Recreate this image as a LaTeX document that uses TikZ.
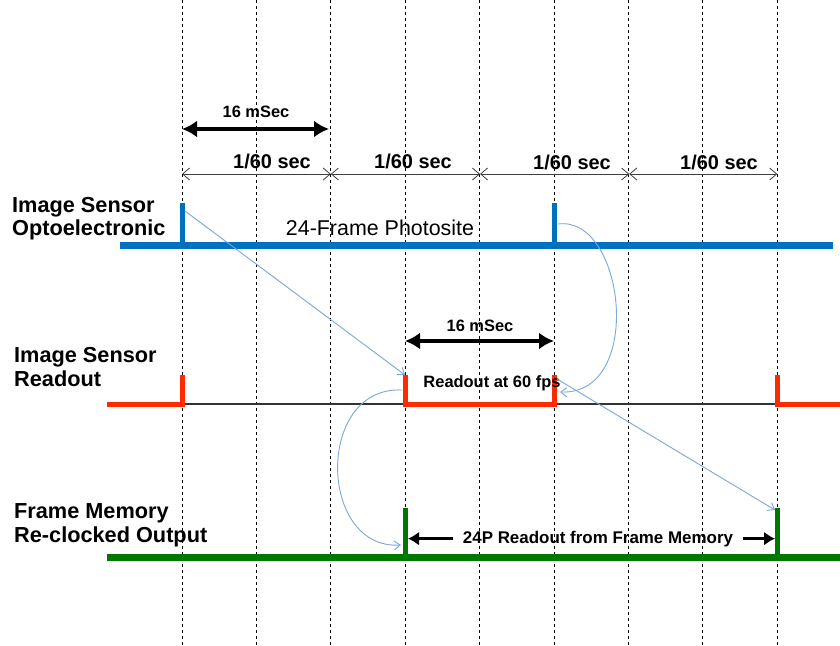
\documentclass[tikz,border=0pt]{standalone}
\usepackage{fontspec}
\setmainfont{Liberation Sans}
\usetikzlibrary{arrows.meta}
\definecolor{sigblue}{HTML}{0070C0}
\definecolor{sigred}{HTML}{FF2A00}
\definecolor{siggreen}{HTML}{007800}
\definecolor{linkblue}{HTML}{7BA7D9}
\definecolor{dimgray}{HTML}{3F3F3F}
\begin{document}
\begin{tikzpicture}[x=1bp,y=-1bp,
  gridline/.style={black, line width=0.7bp, dash pattern=on 3bp off 3bp},
  rowlabel/.style={anchor=base west, inner sep=0, align=left, font=\bfseries\fontsize{21.8}{24}\selectfont},
  bluebase/.style={sigblue, line width=7bp},
  bluepulse/.style={sigblue, line width=5bp},
  redsig/.style={sigred, line width=5bp, line join=miter},
  greenbase/.style={siggreen, line width=7bp},
  greenpulse/.style={siggreen, line width=5bp},
  thinblack/.style={black!80, line width=1.2bp},
  link/.style={linkblue, line width=0.9bp, -{Straight Barb[length=6bp,width=9bp]}},
  period/.style={dimgray, line width=0.8bp, {Straight Barb[length=7bp,width=12bp]}-{Straight Barb[length=7bp,width=12bp]}},
  periodlabel/.style={anchor=base, inner sep=0, font=\bfseries\fontsize{20}{22}\selectfont},
  fatarrow/.style={black, line width=4bp, {Latex[length=15bp,width=17bp]}-{Latex[length=15bp,width=17bp]}},
  halfarrow/.style={black, line width=3.5bp, -{Latex[length=11bp,width=14bp]}},
  smalllabel/.style={anchor=base, inner sep=0, font=\bfseries\fontsize{16.5}{19}\selectfont},
]
\useasboundingbox (0,0) rectangle (840,646);

% grid
\foreach \i in {0,...,8} {
  \draw[gridline] ({182+74.4*\i},0) -- ({182+74.4*\i},646);
}

% row labels (anchored at the baseline of the last line)
\node[rowlabel] (lab1) at (12,236) {Image Sensor\\Optoelectronic};
\node[rowlabel] (lab2) at (14,386) {Image Sensor\\Readout};
\node[rowlabel] (lab3) at (14,542) {Frame Memory\\Re-clocked Output};

% blue signal
\coordinate (bA) at (182,203);
\coordinate (bB) at (554,203);
\draw[bluebase] (120,245) -- (833,245);
\draw[bluepulse] (182,245) -- (bA);
\draw[bluepulse] (554,245) -- (bB);
\node[anchor=base, inner sep=0, font=\fontsize{21.5}{24}\selectfont] (photo) at (380,236) {24-Frame Photosite};

% red signal
\coordinate (rA) at (405,375);
\coordinate (rB) at (554,375);
\draw[thinblack] (182,404) -- (777,404);
\draw[redsig] (107,404) -- (182,404) -- (182,375);
\draw[redsig] (rA) -- (405,404) -- (554,404) -- (rB);
\draw[redsig] (777,375) -- (777,404) -- (840,404);

% green signal
\coordinate (gA) at (405,508);
\coordinate (gB) at (777,508);
\draw[greenbase] (107,557) -- (840,557);
\draw[greenpulse] (405,557) -- (gA);
\draw[greenpulse] (777,557) -- (gB);

% period dimension arrows
\coordinate (t0) at (182,174);
\coordinate (t1) at (330.8,174);
\coordinate (t2) at (480,174);
\coordinate (t3) at (629.2,174);
\coordinate (t4) at (777.2,174);
\draw[period] (t0) -- (t1);
\draw[period] (t1) -- (t2);
\draw[period] (t2) -- (t3);
\draw[period] (t3) -- (t4);
\node[periodlabel] (p1) at (272,169) {1/60 sec};
\node[periodlabel] (p2) at (413,169) {1/60 sec};
\node[periodlabel] (p3) at (572,170) {1/60 sec};
\node[periodlabel] (p4) at (719,170) {1/60 sec};

% 16 mSec arrows
\coordinate (m1a) at (182,129);
\coordinate (m1b) at (329,129);
\draw[fatarrow] (m1a) -- (m1b);
\node[smalllabel] (ms1) at (256,118) {16 mSec};
\coordinate (m2a) at (405,341);
\coordinate (m2b) at (554,341);
\draw[fatarrow] (m2a) -- (m2b);
\node[smalllabel] (ms2) at (480,331) {16 mSec};

\node[anchor=base, inner sep=0, font=\bfseries\fontsize{16.5}{19}\selectfont] (ro) at (492,387) {Readout at 60 fps};

% frame memory readout
\node[anchor=base, inner xsep=10bp, inner ysep=0, font=\bfseries\fontsize{17}{20}\selectfont] (fm) at (598,543) {24P Readout from Frame Memory};
\coordinate (fmL) at (408,508);
\coordinate (fmR) at (775,508);
\draw[halfarrow] (fm.west) -- (fm.west -| fmL);
\draw[halfarrow] (fm.east) -- (fm.east -| fmR);

% links
\coordinate (l1s) at (185,211);
\coordinate (l2s) at (558,224);
\coordinate (l2e) at (560,392);
\coordinate (l3s) at (402,390);
\coordinate (l3e) at (401,545);
\coordinate (l4s) at (557,379);
\coordinate (l4e) at (775,510);
\draw[link] (l1s) -- (rA);
\draw[link] (l2s) .. controls (625,215) and (645,395) .. (l2e);
\draw[link] (l3s) .. controls (315,386) and (318,550) .. (l3e);
\draw[link] (l4s) -- (l4e);
\end{tikzpicture}
\end{document}
